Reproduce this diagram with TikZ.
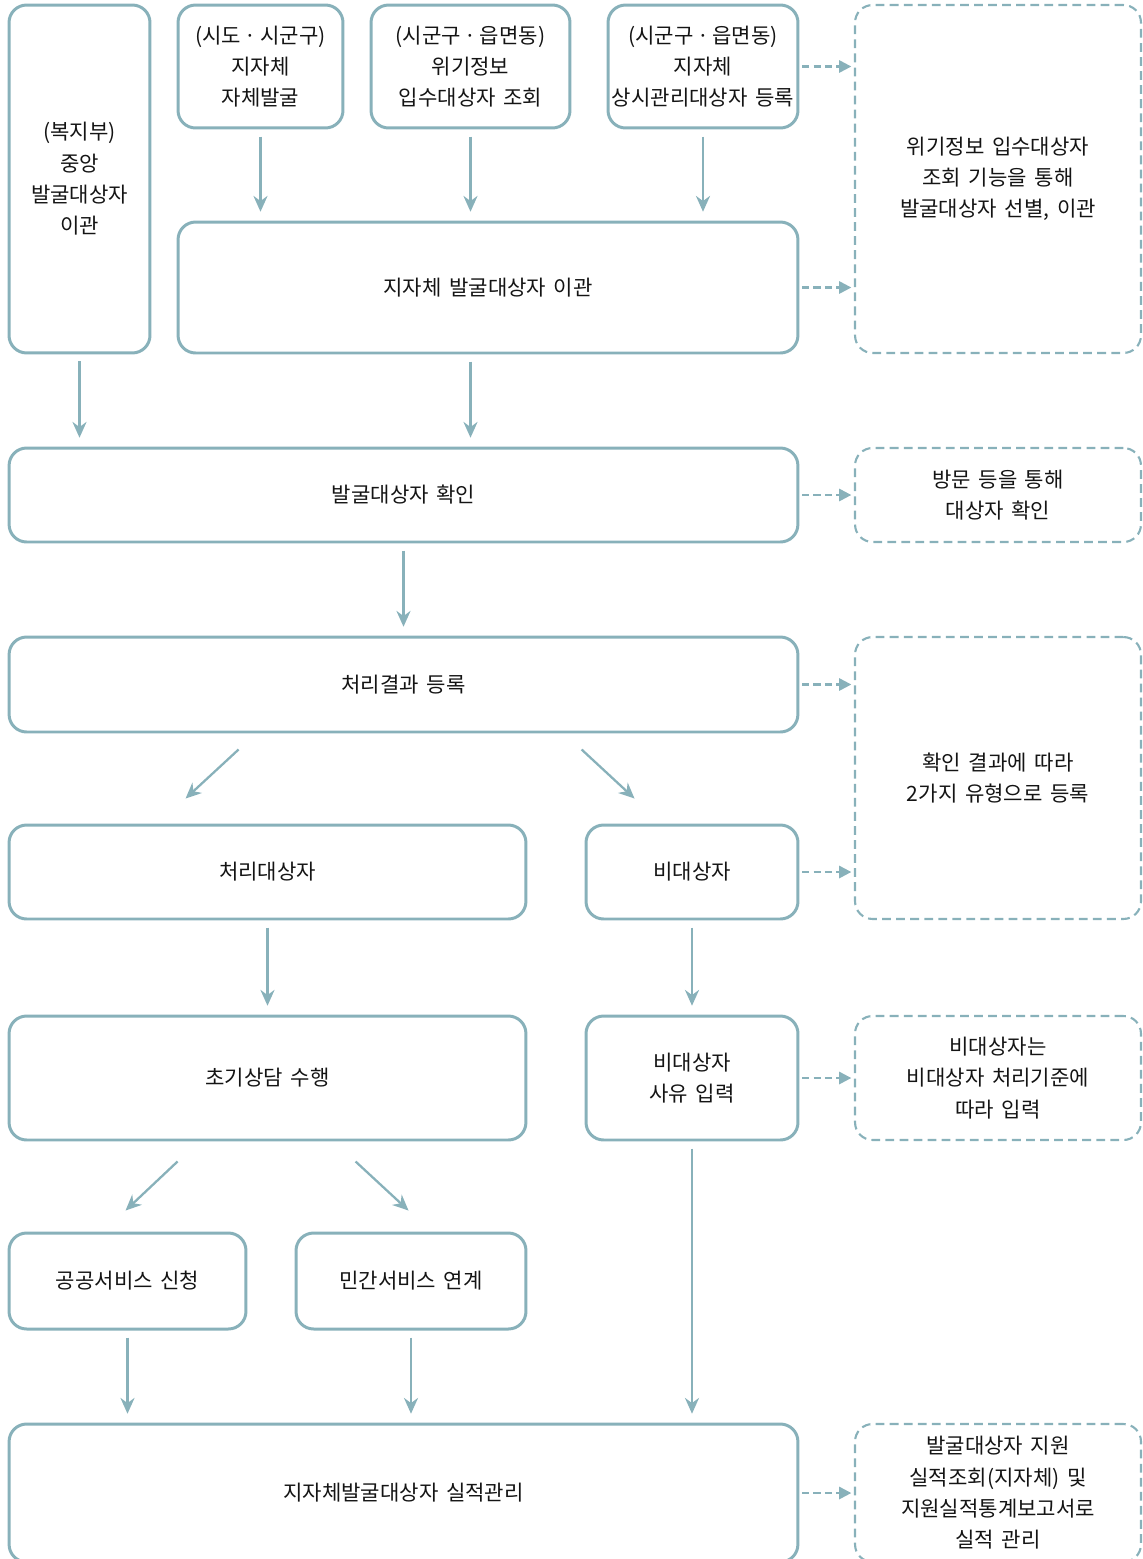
\documentclass[tikz,border=0pt]{standalone}
\usepackage{fontspec}
\setmainfont{Noto Sans CJK KR}
\usepackage{tikz}
\usetikzlibrary{arrows.meta}
\definecolor{flowline}{RGB}{136,177,186}
\definecolor{flowtext}{RGB}{20,20,20}
\newcommand\kfont{\fontsize{12}{17.8}\selectfont\spaceskip=0.36em plus 0.1em}

\begin{document}
\begin{tikzpicture}[x=0.02cm, y=-0.02cm,
  box/.style={draw=flowline, line width=1.7pt, rounded corners=10pt, inner sep=0pt, align=center, text=flowtext, font=\kfont},
  note/.style={box, line width=1.2pt, dash pattern=on 5pt off 3pt},
  arr/.style={draw=flowline, line width=1.3pt, shorten <=4pt, shorten >=5pt, -{Stealth[length=9pt,width=8pt]}},
  darr/.style={draw=flowline, line width=1.3pt, dash pattern=on 4pt off 2.5pt, shorten <=1.5pt, shorten >=1.5pt, -{Triangle[length=7pt,width=7pt]}}]
\useasboundingbox (0,0) rectangle (1143,1559);
% top row
\node[box, minimum width=2.82cm, minimum height=6.96cm] (central) at (79.5,179) {(복지부)\\중앙\\발굴대상자\\이관};
\node[box, minimum width=3.30cm, minimum height=2.46cm] (selfdig) at (260.5,66.5) {(시도\,·\,시군구)\\지자체\\자체발굴};
\node[box, minimum width=3.98cm, minimum height=2.46cm] (crisis) at (470.5,66.5) {(시군구\,·\,읍면동)\\위기정보\\입수대상자 조회};
\node[box, minimum width=3.80cm, minimum height=2.46cm] (regular) at (703,66.5) {(시군구\,·\,읍면동)\\지자체\\상시관리대상자 등록};
\node[box, minimum width=12.40cm, minimum height=2.62cm] (localmove) at (488,287.5) {지자체 발굴대상자 이관};
\node[note, minimum width=5.72cm, minimum height=6.96cm] (noteA) at (998,179) {위기정보 입수대상자\\조회 기능을 통해\\발굴대상자 선별, 이관};
% middle
\node[box, minimum width=15.78cm, minimum height=1.88cm] (confirm) at (403.5,495) {발굴대상자 확인};
\node[note, minimum width=5.72cm, minimum height=1.88cm] (noteB) at (998,495) {방문 등을 통해\\대상자 확인};
\node[box, minimum width=15.78cm, minimum height=1.90cm] (result) at (403.5,684.5) {처리결과 등록};
\node[note, minimum width=5.72cm, minimum height=5.64cm] (noteC) at (998,778) {확인 결과에 따라\\2가지 유형으로 등록};
\node[box, minimum width=10.34cm, minimum height=1.88cm] (target) at (267.5,872) {처리대상자};
\node[box, minimum width=4.24cm, minimum height=1.88cm] (nontarget) at (692,872) {비대상자};
\node[box, minimum width=10.34cm, minimum height=2.48cm] (consult) at (267.5,1078) {초기상담 수행};
\node[box, minimum width=4.24cm, minimum height=2.48cm] (reason) at (692,1078) {비대상자\\사유 입력};
\node[note, minimum width=5.72cm, minimum height=2.48cm] (noteD) at (998,1078) {비대상자는\\비대상자 처리기준에\\따라 입력};
% bottom
\node[box, minimum width=4.74cm, minimum height=1.92cm] (public) at (127.5,1281) {공공서비스 신청};
\node[box, minimum width=4.60cm, minimum height=1.92cm] (private) at (411,1281) {민간서비스 연계};
\node[box, minimum width=15.78cm, minimum height=2.76cm] (perform) at (403.5,1493) {지자체발굴대상자 실적관리};
\node[note, minimum width=5.72cm, minimum height=2.76cm] (noteE) at (998,1493) {발굴대상자 지원\\실적조회(지자체) 및\\지원실적통계보고서로\\실적 관리};

\draw[arr] (selfdig.south) -- (selfdig.south |- localmove.north);
\draw[arr] (crisis.south) -- (crisis.south |- localmove.north);
\draw[arr] (regular.south) -- (regular.south |- localmove.north);
\draw[arr] (central.south) -- (central.south |- confirm.north);
\draw[arr] (crisis.south |- localmove.south) -- (crisis.south |- confirm.north);
\draw[arr] (confirm.south) -- (result.north);
\draw[arr, shorten <=0pt, shorten >=0pt] ([shift={(231,16)}]result.south west) -- ([shift={(178,-25)}]target.north west);
\draw[arr, shorten <=0pt, shorten >=0pt] ([shift={(574,16)}]result.south west) -- ([shift={(50,-25)}]nontarget.north west);
\draw[arr] (target.south) -- (consult.north);
\draw[arr] (nontarget.south) -- (reason.north);
\draw[arr, shorten <=0pt, shorten >=0pt] ([shift={(170,20)}]consult.south west) -- ([shift={(118,-21)}]public.north west);
\draw[arr, shorten <=0pt, shorten >=0pt] ([shift={(348,20)}]consult.south west) -- ([shift={(114,-21)}]private.north west);
\draw[arr] (public.south) -- (public.south |- perform.north);
\draw[arr] (private.south) -- (private.south |- perform.north);
\draw[arr] (reason.south) -- (reason.south |- perform.north);
% dashed side arrows
\draw[darr] (regular.east) -- (regular.east -| noteA.west);
\draw[darr] (localmove.east) -- (localmove.east -| noteA.west);
\draw[darr] (confirm.east) -- (noteB.west);
\draw[darr] (result.east) -- (result.east -| noteC.west);
\draw[darr] (nontarget.east) -- (nontarget.east -| noteC.west);
\draw[darr] (reason.east) -- (noteD.west);
\draw[darr] (perform.east) -- (perform.east -| noteE.west);
\end{tikzpicture}
\end{document}
